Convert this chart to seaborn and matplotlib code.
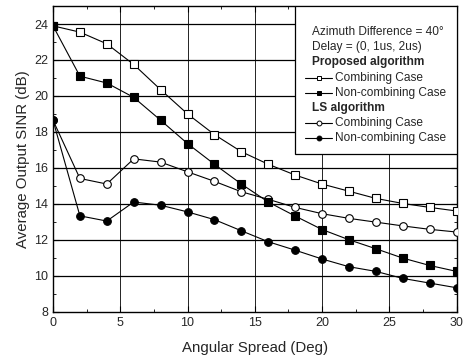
import numpy as np
import pandas as pd
import matplotlib
matplotlib.use("Agg")
import matplotlib.pyplot as plt
import seaborn as sns
from matplotlib.lines import Line2D
from matplotlib.patches import Rectangle

# Angular spread (deg)
spread = [0, 2, 4, 6, 8, 10, 12, 14, 16, 18, 20, 22, 24, 26, 28, 30]

# Average output SINR (dB)
prop_comb = [23.9, 23.55, 22.9, 21.75, 20.35, 19.0, 17.85, 16.9, 16.2, 15.6, 15.1, 14.7, 14.3, 14.02, 13.8, 13.6]
prop_noncomb = [23.9, 21.1, 20.72, 19.92, 18.65, 17.35, 16.2, 15.1, 14.1, 13.32, 12.57, 12.0, 11.5, 10.98, 10.57, 10.24]
ls_comb = [18.65, 15.41, 15.1, 16.5, 16.32, 15.78, 15.25, 14.67, 14.25, 13.8, 13.45, 13.19, 12.98, 12.77, 12.58, 12.43]
ls_noncomb = [18.65, 13.33, 13.04, 14.1, 13.92, 13.55, 13.12, 12.5, 11.89, 11.42, 10.93, 10.5, 10.24, 9.85, 9.59, 9.33]

series_names = ["Proposed, Combining", "Proposed, Non-combining",
                "LS, Combining", "LS, Non-combining"]
series_values = [prop_comb, prop_noncomb, ls_comb, ls_noncomb]

df = pd.concat(
    [pd.DataFrame({"spread": spread, "sinr": v, "series": n})
     for n, v in zip(series_names, series_values)],
    ignore_index=True,
)

sns.set_style("ticks")
plt.rcParams["font.family"] = ["Liberation Sans", "DejaVu Sans"]
plt.rcParams["xtick.direction"] = "in"
plt.rcParams["ytick.direction"] = "in"

fig = plt.figure(figsize=(4.64, 3.57), dpi=100)
ax = fig.add_axes([0.1142, 0.127, 0.984 - 0.1142, 0.983 - 0.127])

styles = {
    "Proposed, Combining": dict(marker="s", mfc="white"),
    "Proposed, Non-combining": dict(marker="s", mfc="black"),
    "LS, Combining": dict(marker="o", mfc="white"),
    "LS, Non-combining": dict(marker="o", mfc="black"),
}
draw_order = ["Proposed, Combining", "LS, Combining",
              "Proposed, Non-combining", "LS, Non-combining"]
for name in draw_order:
    st = styles[name]
    sns.lineplot(data=df[df["series"] == name], x="spread", y="sinr", ax=ax,
                 color="black", lw=0.8, marker=st["marker"], markersize=5.5,
                 markerfacecolor=st["mfc"], markeredgecolor="black",
                 markeredgewidth=0.8, legend=False, zorder=3)

ax.set_xlim(0, 30)
ax.set_ylim(8, 25)
ax.set_xticks(np.arange(0, 31, 5))
ax.set_yticks(np.arange(8, 25, 2))
ax.set_xticks(np.arange(0, 30.1, 2.5), minor=True)
ax.set_yticks(np.arange(8, 25.1, 1), minor=True)
ax.tick_params(which="both", direction="in", top=True, right=True,
               labelsize=9, color="black")
ax.tick_params(which="major", length=4, width=0.8)
ax.tick_params(which="minor", length=2, width=0.6)
for s in ax.spines.values():
    s.set_linewidth(1.0)
    s.set_color("black")

ax.grid(False)
for yv in np.arange(10, 25, 2):
    ax.axhline(yv, color="black", lw=0.9, zorder=1)
for xv in np.arange(5, 30, 5):
    ax.axvline(xv, color="black", lw=0.6, zorder=1)

ax.set_xlabel("Angular Spread (Deg)", fontsize=10.8, labelpad=9)
ax.set_ylabel("Average Output SINR (dB)", fontsize=10.8, labelpad=3)

# Legend panel in the upper right corner
x0, y0 = 0.599, 0.516
ax.add_patch(Rectangle((x0, y0), 1.0 - x0, 1.0 - y0, transform=ax.transAxes,
                       facecolor="white", edgecolor="black", lw=0.9, zorder=5))
rows = [
    ("Azimuth Difference = 40°", None, False),
    ("Delay = (0, 1us, 2us)", None, False),
    ("Proposed algorithm", None, True),
    ("Combining Case", styles["Proposed, Combining"], False),
    ("Non-combining Case", styles["Proposed, Non-combining"], False),
    ("LS algorithm", None, True),
    ("Combining Case", styles["LS, Combining"], False),
    ("Non-combining Case", styles["LS, Non-combining"], False),
]
top = 0.915
step = 0.0496
for i, (txt, st, bold) in enumerate(rows):
    yy = top - i * step
    if st is None:
        ax.text(x0 + 0.043, yy, txt, transform=ax.transAxes, fontsize=8.6,
                fontweight="bold" if bold else "normal",
                va="center", ha="left", zorder=6)
    else:
        ax.add_line(Line2D([x0 + 0.025, x0 + 0.093], [yy, yy],
                           transform=ax.transAxes, color="black", lw=0.8,
                           zorder=6))
        ax.add_line(Line2D([x0 + 0.059], [yy], transform=ax.transAxes,
                           color="black", marker=st["marker"], markersize=3.5,
                           markerfacecolor=st["mfc"], markeredgecolor="black",
                           markeredgewidth=0.7, lw=0, zorder=7))
        ax.text(x0 + 0.100, yy, txt, transform=ax.transAxes, fontsize=8.6,
                va="center", ha="left", zorder=6)

fig.savefig("out.png", dpi=100)
